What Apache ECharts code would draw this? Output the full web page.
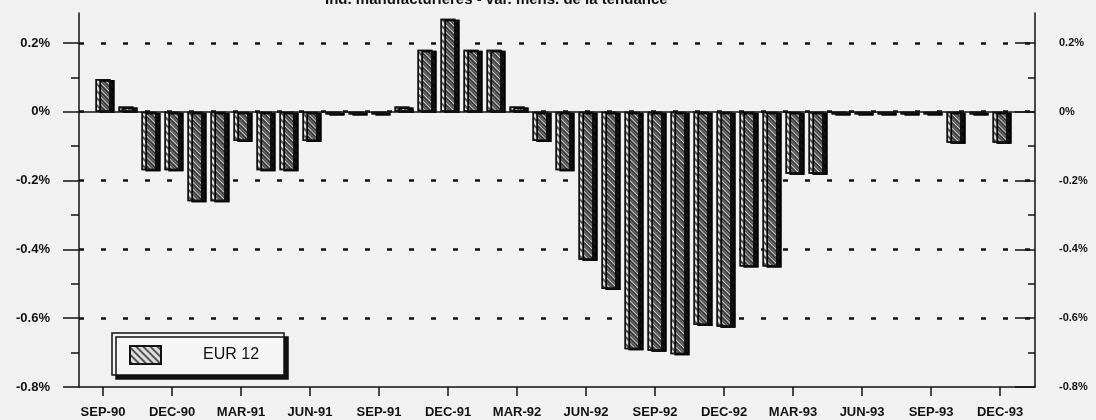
<!DOCTYPE html>
<html><head><meta charset="utf-8">
<script src="https://cdn.jsdelivr.net/npm/echarts@6/dist/echarts.min.js"></script>
<style>html,body{margin:0;padding:0;background:#f1f1f1}#c{width:1096px;height:420px}</style>
</head><body><div id="c"></div>
<script>
const titleText = 'Ind. manufacturières - var. mens. de la tendance';
const seriesName = 'EUR 12';
const categories = ['SEP-90','OCT-90','NOV-90','DEC-90','JAN-91','FEB-91','MAR-91','APR-91','MAY-91','JUN-91',
  'JUL-91','AUG-91','SEP-91','OCT-91','NOV-91','DEC-91','JAN-92','FEB-92','MAR-92','APR-92',
  'MAY-92','JUN-92','JUL-92','AUG-92','SEP-92','OCT-92','NOV-92','DEC-92','JAN-93','FEB-93',
  'MAR-93','APR-93','MAY-93','JUN-93','JUL-93','AUG-93','SEP-93','OCT-93','NOV-93','DEC-93'];
const values = [0.095, 0.015, -0.17, -0.17, -0.26, -0.26, -0.085, -0.17, -0.17, -0.085,
  -0.008, -0.008, -0.008, 0.015, 0.18, 0.27, 0.18, 0.18, 0.015, -0.085,
  -0.17, -0.43, -0.515, -0.69, -0.695, -0.705, -0.62, -0.625, -0.45, -0.45,
  -0.18, -0.18, -0.008, -0.008, -0.008, -0.008, -0.008, -0.09, -0.008, -0.09];
const labelIndex = [0, 3, 6, 9, 12, 15, 18, 21, 24, 27, 30, 33, 36, 39];
const majorTicks = [-0.8, -0.6, -0.4, -0.2, 0, 0.2];
const minorTicks = [-0.7, -0.5, -0.3, -0.1, 0.1];

const font = '"Liberation Sans", Arial, sans-serif';
const ink = '#111';
const yMin = -0.8, yMax = 0.287;
const pct = v => (Math.abs(v) < 1e-9 ? '0' : v.toFixed(1)) + '%';

const chart = echarts.init(document.getElementById('c'), null, {renderer: 'canvas'});
const hatch = {symbol: 'rect', symbolSize: 1, color: 'rgba(40,40,40,0.75)', dashArrayX: [1, 0], dashArrayY: [1.2, 2.6], rotation: Math.PI / 4};

function yAx(pos, ticks, len, inside, withLine, withLabel, withSplit, fs, margin) {
  return {
    type: 'value', position: pos, min: yMin, max: yMax, interval: 0.2,
    axisLine: {show: withLine, onZero: false, lineStyle: {color: ink, width: 1.5}},
    axisTick: {show: true, customValues: ticks, length: len, inside: inside, lineStyle: {color: ink, width: 1.5}},
    axisLabel: {show: withLabel, customValues: ticks, formatter: pct, fontFamily: font, fontWeight: 'bold', fontSize: fs, color: ink, margin: margin},
    splitLine: withSplit ? {show: true, showMaxLine: true, showMinLine: false, lineStyle: {color: ink, type: [5, 17], width: 2.5}} : {show: false}
  };
}

chart.setOption({
  backgroundColor: '#f1f1f1',
  animation: false,
  title: {text: titleText, left: 325, top: -8, padding: 0, textStyle: {fontSize: 15, fontWeight: 'bold', fontFamily: font, color: ink}},
  grid: {left: 79, right: 61, top: 13, bottom: 33, containLabel: false},
  legend: {
    left: 112, top: 333, padding: [12, 25, 10, 17], itemWidth: 31, itemHeight: 18, icon: 'rect',
    backgroundColor: '#f5f5f5', borderColor: ink, borderWidth: 1.5, borderRadius: 0,
    shadowColor: '#111', shadowOffsetX: 4, shadowOffsetY: 4, shadowBlur: 0,
    formatter: n => '{t|' + n + '}',
    textStyle: {rich: {t: {padding: [0, 0, 0, 37], fontSize: 16, fontFamily: font, color: ink}}},
    data: [seriesName]
  },
  xAxis: {
    type: 'value', min: -1.043, max: 40.52, position: 'bottom',
    axisLine: {onZero: false, lineStyle: {color: ink, width: 1.5}},
    axisTick: {customValues: labelIndex, length: 9, lineStyle: {color: ink, width: 1.5}},
    axisLabel: {customValues: labelIndex, formatter: v => categories[Math.round(v)], fontFamily: font, fontWeight: 'bold', fontSize: 13, color: ink, margin: 19},
    splitLine: {show: false}
  },
  yAxis: [
    yAx('left', majorTicks, 16, false, true, true, true, 13, 29),
    yAx('left', minorTicks, 8, false, false, false, false, 12, 8),
    yAx('right', majorTicks, 20, true, true, true, false, 11, 24),
    yAx('right', minorTicks, 7, true, false, false, false, 11, 8)
  ],
  series: [{
    type: 'bar', name: seriesName, xAxisIndex: 0, yAxisIndex: 0,
    data: values.map((v, i) => [i, v]),
    barWidth: 15,
    itemStyle: {color: '#dedede', borderColor: ink, borderWidth: 1.5, decal: hatch,
      shadowColor: '#111', shadowOffsetX: 4, shadowOffsetY: 1, shadowBlur: 0},
    markLine: {silent: true, symbol: 'none', label: {show: false}, animation: false,
      lineStyle: {color: ink, type: 'solid', width: 1.5}, data: [{yAxis: 0}]},
    z: 3
  }]
});
</script></body></html>
